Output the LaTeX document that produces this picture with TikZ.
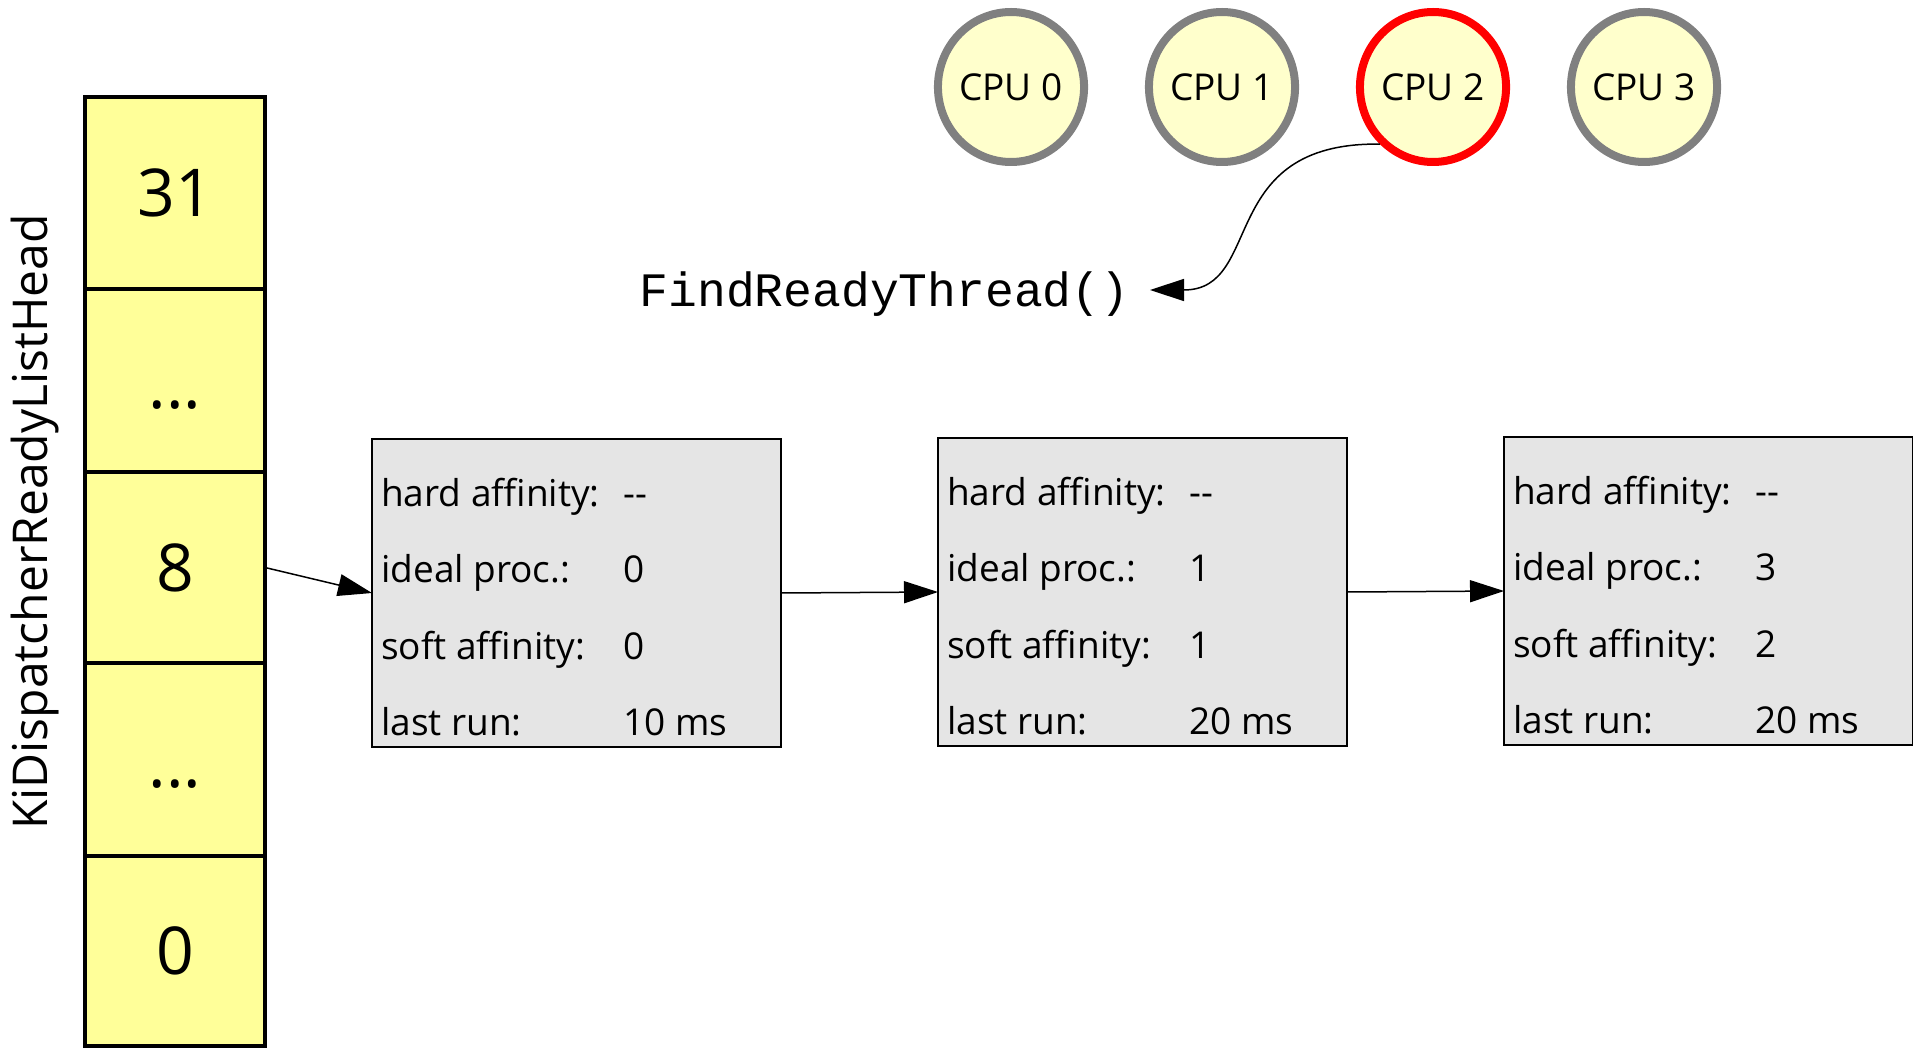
\documentclass[tikz,border=0pt]{standalone}
\usepackage{fontspec}
\setmainfont{Open Sans}
\newfontfamily\codefont{Liberation Mono}
\usetikzlibrary{shapes.geometric,arrows.meta,calc}

\definecolor{stackfill}{HTML}{FFFF99}
\definecolor{cpufill}{HTML}{FFFFCC}
\definecolor{cpuedge}{HTML}{808080}
\definecolor{activeedge}{HTML}{FF0000}
\definecolor{boxfill}{HTML}{E5E5E5}

% the four text rows of one thread record
\newcommand\threadrows[5]{%
  \node[rowtext] (#1-hl) at ($(#1.north west)+(9,67)$)   {hard affinity:};
  \node[rowtext] (#1-hv) at ($(#1.north west)+(251,67)$) {#2};
  \node[rowtext] (#1-il) at ($(#1.north west)+(9,143)$)  {ideal proc.:};
  \node[rowtext] (#1-iv) at ($(#1.north west)+(251,143)$) {#3};
  \node[rowtext] (#1-sl) at ($(#1.north west)+(9,220)$)  {soft affinity:};
  \node[rowtext] (#1-sv) at ($(#1.north west)+(251,220)$) {#4};
  \node[rowtext] (#1-ll) at ($(#1.north west)+(9,296)$)  {last run:};
  \node[rowtext] (#1-lv) at ($(#1.north west)+(251,296)$) {#5};
}
\newcommand\nodash{\mbox{-}\mbox{-}}

\begin{document}
\begin{tikzpicture}[x=1pt,y=-1pt,
  cell/.style={draw=black, line width=4pt, fill=stackfill, minimum width=180pt,
    inner sep=0pt, outer sep=0pt, text height=47pt, text depth=0pt,
    font=\fontsize{66}{66}\selectfont},
  dotcell/.style={cell, text height=55pt},
  cpu/.style={ellipse, draw=cpuedge, line width=8pt, fill=cpufill,
    minimum width=142pt, minimum height=150pt, inner sep=0pt,
    font=\fontsize{37}{37}\selectfont},
  tbox/.style={draw=black, line width=2.5pt, fill=boxfill, minimum width=409pt,
    minimum height=308pt, inner sep=0pt, outer sep=0pt, anchor=north west},
  rowtext/.style={anchor=base west, inner sep=0pt, font=\fontsize{37}{37}\selectfont},
  conn/.style={line width=1.5pt, -{Triangle[length=34pt,width=22pt]}}]

\useasboundingbox (0,0) rectangle (1913,1048);

% ready list head array
\node[cell, minimum height=192pt] (c31) at (175,193)      {31};
\node[dotcell, minimum height=183pt] (cda) at (175,380.5) {...};
\node[cell, minimum height=191pt] (c8)  at (175,567.5)    {8};
\node[dotcell, minimum height=193pt] (cdb) at (175,759.5) {...};
\node[cell, minimum height=190pt] (c0)  at (175,951)      {0};
\node[rotate=90, inner sep=0pt, font=\fontsize{48}{48}\selectfont] (head) at (35,522)
  {KiDispatcherReadyListHead};

% processors
\node[cpu] (cpu0) at (1011,87) {CPU 0};
\node[cpu] (cpu1) at (1222,87) {CPU 1};
\node[cpu, draw=activeedge] (cpu2) at (1433,87) {CPU 2};
\node[cpu] (cpu3) at (1644,87) {CPU 3};

% routine name
\node[anchor=base, inner sep=0pt, font=\codefont\fontsize{48}{48}\selectfont] (frt)
  at (884.5,307) {FindReadyThread()};
\coordinate (frtin) at (1150,290);

% ready threads
\node[tbox] (t1) at (372,439)  {};
\node[tbox] (t2) at (938,438)  {};
\node[tbox] (t3) at (1504,437) {};
\threadrows{t1}{\nodash}{0}{0}{10 ms}
\threadrows{t2}{\nodash}{1}{1}{20 ms}
\threadrows{t3}{\nodash}{3}{2}{20 ms}

% links
\draw[conn] (c8.east) -- (t1.west);
\draw[conn] (t1.east) -- (t2.west);
\draw[conn] (t2.east) -- (t3.west);
\draw[conn] (cpu2.227) .. controls (1215,142) and (1265,290) .. (frtin);
\end{tikzpicture}
\end{document}
